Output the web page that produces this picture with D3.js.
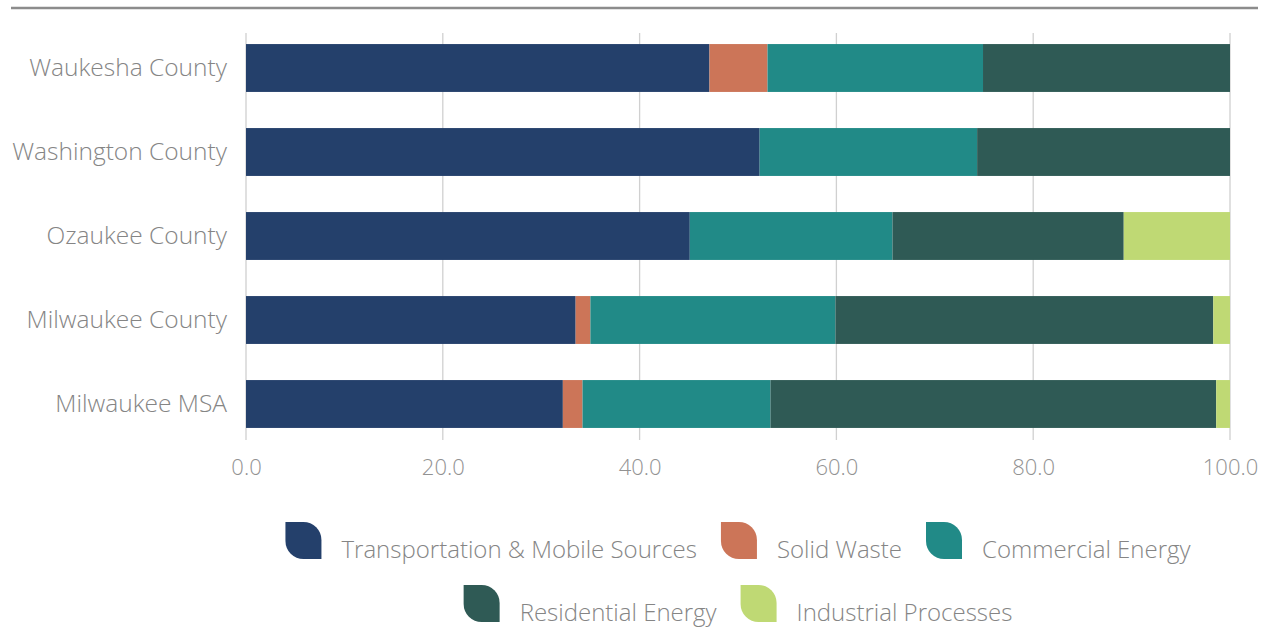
<!DOCTYPE html>
<html>
<head>
<meta charset="utf-8">
<script src="https://cdn.jsdelivr.net/npm/d3@7"></script>
<style>
	body { margin: 0; background: #fff; }
	text { font-family: "Open Sans", sans-serif; font-weight: 300; fill: #858585; }
</style>
</head>
<body>
<div id="chart"></div>
<script>
const regions = ['Waukesha County', 'Washington County', 'Ozaukee County', 'Milwaukee County', 'Milwaukee MSA'],
	sectors = ['Transportation & Mobile Sources', 'Solid Waste', 'Commercial Energy', 'Residential Energy', 'Industrial Processes'],
	colors = ['#24406b', '#cc7558', '#218a87', '#2f5a55', '#bfd974'],
	xTicks = [0, 20, 40, 60, 80, 100];

// percent share per sector, in region order
const transport = [47.1, 52.2, 45.1, 33.5, 32.2],
	solidWaste = [5.9, 0, 0, 1.5, 2.0],
	commercial = [21.9, 22.1, 20.6, 24.9, 19.1],
	residential = [25.1, 25.7, 23.5, 38.4, 45.3],
	industrial = [0, 0, 10.8, 1.7, 1.4];

const width = 1270, height = 633;

const rows = regions.map((r, i) => ({
	region: r,
	'Transportation & Mobile Sources': transport[i],
	'Solid Waste': solidWaste[i],
	'Commercial Energy': commercial[i],
	'Residential Energy': residential[i],
	'Industrial Processes': industrial[i]
}));

let svg = d3.select('#chart')
	.append('svg')
	.attr('width', width)
	.attr('height', height);

// top rule
svg.append('line')
	.attr('x1', 11).attr('x2', 1258)
	.attr('y1', 8).attr('y2', 8)
	.attr('stroke', '#8c8c8c')
	.attr('stroke-width', 2.5);

let x = d3.scaleLinear().domain([0, 100]).range([246, 1230]);
let y = d3.scaleBand().domain(regions).range([26, 446]).paddingInner(0.43).paddingOuter(0.215);

// gridlines
svg.append('g')
	.selectAll('line')
	.data(xTicks)
	.enter()
	.append('line')
		.attr('x1', d => x(d)).attr('x2', d => x(d))
		.attr('y1', 33).attr('y2', 440)
		.attr('stroke', '#d0d0d0')
		.attr('stroke-width', 1.3);

// stacked bars
const series = d3.stack().keys(sectors)(rows);

svg.append('g')
	.selectAll('g')
	.data(series)
	.enter()
	.append('g')
		.attr('fill', (d, i) => colors[i])
	.selectAll('rect')
	.data(d => d)
	.enter()
	.append('rect')
		.attr('x', d => x(d[0]))
		.attr('y', d => y(d.data.region))
		.attr('width', d => x(d[1]) - x(d[0]))
		.attr('height', y.bandwidth());

// category labels
svg.append('g')
	.selectAll('text')
	.data(regions)
	.enter()
	.append('text')
		.attr('x', 227)
		.attr('y', d => y(d) + y.bandwidth() / 2)
		.attr('dy', '0.33em')
		.attr('text-anchor', 'end')
		.style('font-size', '24.5px')
		.text(d => d);

// x axis
let xAxis = d3.axisBottom(x).tickValues(xTicks).tickFormat(d3.format('.1f')).tickSize(0).tickPadding(0);
let gx = svg.append('g')
	.attr('transform', 'translate(0,459)')
	.call(xAxis);
gx.select('.domain').remove();
gx.selectAll('text')
	.attr('dy', '0.71em')
	.attr('y', 0)
	.style('font-family', '"Open Sans", sans-serif')
	.style('font-size', '22px')
	.style('fill', '#929292');

// legend, two rows centred under the plot
const leaf = 'M0,0 H18 A18,18 0 0 1 36,18 V37 H18 A18,18 0 0 1 0,19 Z';
const legendRows = [sectors.slice(0, 3), sectors.slice(3)];
const legendY = [522, 585];
const cx = (x(0) + x(100)) / 2;

legendRows.forEach((items, r) => {
	let g = svg.append('g');
	let offset = 0;
	items.forEach(name => {
		let item = g.append('g').attr('transform', `translate(${offset},0)`);
		item.append('path')
			.attr('d', leaf)
			.attr('fill', colors[sectors.indexOf(name)]);
		let t = item.append('text')
			.attr('x', 56)
			.attr('y', 36)
			.style('font-size', '24px')
			.text(name);
		offset += 56 + t.node().getComputedTextLength() + 24;
	});
	let total = offset - 24;
	g.attr('transform', `translate(${cx - total / 2},${legendY[r]})`);
});
</script>
</body>
</html>
